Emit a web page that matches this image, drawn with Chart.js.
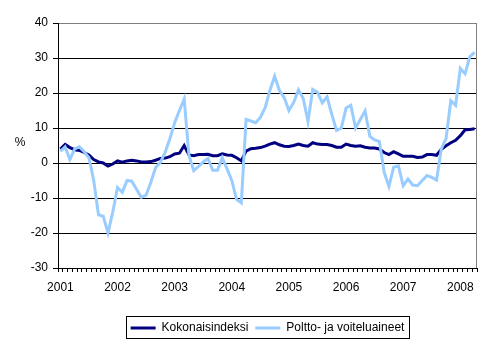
<!DOCTYPE html>
<html>
<head>
<meta charset="utf-8">
<script src="https://cdn.jsdelivr.net/npm/chart.js@4.4.1/dist/chart.umd.min.js"></script>
<style>
    html, body { margin: 0; padding: 0; background: #fff; }
    #wrap { width: 495px; height: 342px; position: relative; }
</style>
</head>
<body>
<div id="wrap"><canvas id="priceChart"></canvas></div>
<script>
// years on the axis, last year only runs to April
const years = ['2001', '2002', '2003', '2004', '2005', '2006', '2007', '2008'];
const lastYearMonths = 4;

// annual change, %
const kokonaisindeksi = [
    4.0, 5.3, 4.4, 3.8, 3.6, 3.0, 2.3, 1.0, 0.3, 0.0, -0.9, -0.3,
    0.6, 0.2, 0.6, 0.8, 0.6, 0.3, 0.3, 0.4, 0.8, 1.3, 1.4, 1.8,
    2.6, 2.8, 5.0, 2.3, 2.1, 2.4, 2.4, 2.5, 2.1, 2.1, 2.6, 2.3,
    2.2, 1.5, 0.6, 3.4, 4.1, 4.2, 4.4, 4.8, 5.4, 5.8, 5.2, 4.8,
    4.7, 5.0, 5.4, 5.0, 4.8, 5.8, 5.4, 5.3, 5.3, 5.0, 4.5, 4.5,
    5.4, 5.0, 4.8, 4.9, 4.5, 4.3, 4.3, 4.0, 3.0, 2.4, 3.2, 2.6,
    1.9, 1.9, 1.9, 1.6, 1.7, 2.4, 2.4, 2.2, 3.9, 4.9, 5.8, 6.5,
    7.8, 9.5, 9.6, 9.8
];
const polttoaineet = [
    3.3, 4.6, 1.0, 4.0, 4.6, 3.2, 1.5, -5.0, -14.8, -15.2, -20.0, -14.0,
    -7.0, -8.4, -5.0, -5.2, -7.5, -9.8, -9.2, -5.5, -1.3, 0.2, 3.0, 7.0,
    11.5, 15.0, 18.3, 2.2, -2.2, -1.0, 0.3, 1.3, -2.1, -2.1, 1.5, -1.7,
    -5.0, -10.4, -11.4, 12.5, 12.0, 11.5, 13.0, 15.8, 20.7, 24.8, 20.7, 18.7,
    15.0, 17.3, 20.9, 18.5, 11.9, 21.0, 20.2, 17.2, 18.9, 13.9, 9.3, 10.0,
    15.7, 16.5, 10.0, 12.4, 14.9, 7.6, 6.6, 6.1, -2.6, -6.7, -1.2, -0.8,
    -6.5, -4.6, -6.3, -6.5, -5.0, -3.6, -4.1, -4.9, 4.0, 7.0, 17.8, 16.5,
    27.0, 25.5, 30.4, 31.6
];

const yMin = -30;
const yMax = 40;
const yStep = 10;

// month labels like 2001-01
const months = [];
years.forEach((y, k) => {
    const n = k === years.length - 1 ? lastYearMonths : 12;
    for (let m = 1; m <= n; m++) {
        months.push(y + '-' + String(m).padStart(2, '0'));
    }
});

Chart.defaults.font.family = '"Liberation Sans", Arial, sans-serif';
Chart.defaults.font.size = 12;
Chart.defaults.color = '#000';

// "%" next to the value axis
const percentLabel = {
    id: 'percentLabel',
    afterDraw(chart) {
        const c = chart.ctx;
        c.save();
        c.font = '12px "Liberation Sans", Arial, sans-serif';
        c.fillStyle = '#000';
        c.textAlign = 'center';
        c.textBaseline = 'middle';
        c.fillText('%', 20, 143);
        c.restore();
    }
};

// grey plot border on the right + box round the legend
const frames = {
    id: 'frames',
    afterDraw(chart) {
        const c = chart.ctx;
        const a = chart.chartArea;
        c.save();
        c.strokeStyle = '#808080';
        c.lineWidth = 1;
        c.beginPath();
        c.moveTo(Math.round(a.right) - 0.5, a.top);
        c.lineTo(Math.round(a.right) - 0.5, a.bottom);
        c.stroke();

        const boxes = chart.legend.legendHitBoxes;
        if (boxes && boxes.length) {
            const first = boxes[0];
            const last = boxes[boxes.length - 1];
            const left = Math.round(first.left) - 4.5;
            const right = Math.round(last.left + last.width) + 5.5;
            const top = Math.round(first.top) - 5.5;
            const bottom = Math.round(first.top + first.height) + 4.5;
            c.strokeStyle = '#000';
            c.strokeRect(left, top, right - left, bottom - top);
        }
        c.restore();
    }
};

const ctx = document.getElementById('priceChart').getContext('2d');

new Chart(ctx, {
    type: 'line',
    data: {
        labels: months,
        datasets: [
            {
                label: 'Kokonaisindeksi',
                data: kokonaisindeksi,
                borderColor: '#000080',
                backgroundColor: '#000080',
                borderWidth: 3,
                pointRadius: 0,
                tension: 0,
                order: 2
            },
            {
                label: 'Poltto- ja voiteluaineet',
                data: polttoaineet,
                borderColor: '#99CCFF',
                backgroundColor: '#99CCFF',
                borderWidth: 3,
                pointRadius: 0,
                tension: 0,
                order: 1
            }
        ]
    },
    options: {
        responsive: true,
        maintainAspectRatio: false,
        animation: false,
        devicePixelRatio: 1,
        layout: {
            padding: { top: 23, right: 18, left: 0, bottom: -2 }
        },
        plugins: {
            tooltip: { enabled: false },
            legend: {
                position: 'bottom',
                fullSize: false,
                labels: {
                    boxWidth: 25,
                    boxHeight: 3,
                    padding: 7,
                    color: '#000',
                    font: { size: 12 },
                    sort: (a, b) => a.datasetIndex - b.datasetIndex,
                    generateLabels(chart) {
                        const items = Chart.defaults.plugins.legend.labels.generateLabels(chart);
                        return items.map(it => Object.assign(it, { lineWidth: 0, fillStyle: it.strokeStyle }));
                    }
                }
            }
        },
        scales: {
            x: {
                offset: true,
                grid: {
                    offset: true,
                    drawOnChartArea: false,
                    drawTicks: true,
                    tickLength: 4,
                    color: '#000'
                },
                border: { color: '#000', width: 1 },
                ticks: {
                    autoSkip: false,
                    maxRotation: 0,
                    minRotation: 0,
                    padding: 8,
                    callback: function (val) {
                        const l = this.getLabelForValue(val);
                        return l.endsWith('-01') ? l.slice(0, 4) : '';
                    }
                },
                afterFit(scale) { scale.height = 47; }
            },
            y: {
                min: yMin,
                max: yMax,
                ticks: { stepSize: yStep, padding: 5 },
                grid: {
                    color: c => (c.tick && c.tick.value === yMax ? '#808080' : '#000'),
                    tickColor: '#000',
                    tickLength: 5
                },
                border: { color: '#000', width: 1 },
                afterFit(scale) { scale.width = 58; }
            }
        }
    },
    plugins: [percentLabel, frames]
});
</script>
</body>
</html>
